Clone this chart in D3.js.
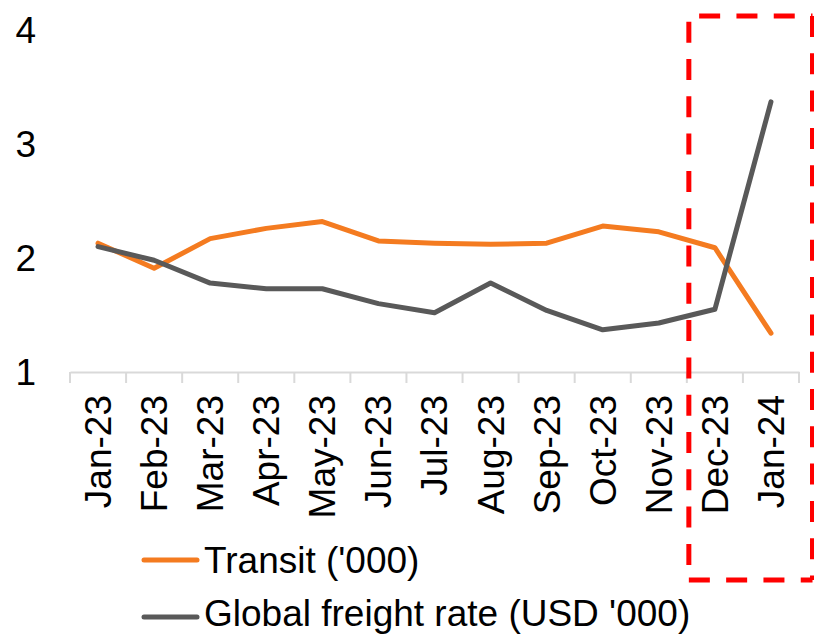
<!DOCTYPE html>
<html>
<head>
<meta charset="utf-8">
<script src="https://cdn.jsdelivr.net/npm/d3@7"></script>
<style>
  html, body { margin: 0; padding: 0; background: #fff; }
  svg { display: block; font-family: "Liberation Sans", Arial, sans-serif; }
</style>
</head>
<body>
<svg id="chart" width="814" height="634"></svg>
<script>
const categories = ["Jan-23","Feb-23","Mar-23","Apr-23","May-23","Jun-23","Jul-23","Aug-23","Sep-23","Oct-23","Nov-23","Dec-23","Jan-24"];
const transit = [2.13, 1.91, 2.17, 2.26, 2.32, 2.15, 2.13, 2.12, 2.13, 2.28, 2.23, 2.09, 1.34];
const freightRate = [2.10, 1.98, 1.78, 1.73, 1.73, 1.60, 1.52, 1.78, 1.54, 1.37, 1.43, 1.55, 3.37];
const yTicks = [1, 2, 3, 4];
const seriesNames = ["Transit ('000)", "Global freight rate (USD '000)"];
const seriesColors = ["#F47B20", "#595959"];
const highlightStart = "Dec-23";

const svg = d3.select("#chart");
const fontSize = 37;

const x = d3.scaleBand().domain(categories).range([70, 799]).padding(0);
const y = d3.scaleLinear().domain([1, 4]).range([372, 30]);

// Y labels
svg.append("g").selectAll("text").data(yTicks).join("text")
  .attr("x", 36).attr("y", d => y(d)).attr("dy", "0.36em")
  .attr("text-anchor", "end").attr("font-size", fontSize).attr("fill", "#000")
  .text(d => d);

// X axis
const xAxis = d3.axisBottom(x).tickSize(0).tickFormat("");
const gx = svg.append("g").attr("transform", `translate(0,${y(1)})`).call(xAxis);
gx.select(".domain").attr("stroke", "#d9d9d9").attr("stroke-width", 2);
const boundaries = categories.map(c => x(c)).concat([x(categories[categories.length-1]) + x.bandwidth()]);
gx.selectAll("line.bt").data(boundaries).join("line").attr("class","bt")
  .attr("x1", d => d).attr("x2", d => d).attr("y1", 0).attr("y2", 11)
  .attr("stroke", "#d9d9d9").attr("stroke-width", 2);
gx.selectAll("text.lbl").data(categories).join("text").attr("class","lbl")
  .attr("transform", d => `translate(${x(d) + x.bandwidth()/2},23) rotate(-90)`)
  .attr("dy", "0.35em").attr("text-anchor", "end")
  .attr("font-size", fontSize).attr("fill", "#000")
  .text(d => d);

// Lines
const line = d3.line().x((d, i) => x(categories[i]) + x.bandwidth()/2).y(d => y(d));
[transit, freightRate].forEach((s, k) => {
  svg.append("path").datum(s).attr("d", line)
    .attr("fill", "none").attr("stroke", seriesColors[k]).attr("stroke-width", 5)
    .attr("stroke-linejoin", "round").attr("stroke-linecap", "round");
});

// Highlight dashed box
const bx0 = x(highlightStart) + 2, bx1 = 812.5, by0 = 16, by1 = 580;
const dash = "21,16.3";
const edges = [
  {x1: bx0, y1: by0, x2: bx1, y2: by0, off: 27},
  {x1: bx0, y1: by0, x2: bx0, y2: by1, off: 31.6},
  {x1: bx0, y1: by1, x2: bx1, y2: by1, off: 0},
  {x1: bx1, y1: by0, x2: bx1, y2: by1, off: 0}
];
svg.append("g").selectAll("line").data(edges).join("line")
  .attr("x1", d => d.x1).attr("y1", d => d.y1).attr("x2", d => d.x2).attr("y2", d => d.y2)
  .attr("stroke", "#FF0000").attr("stroke-width", 5)
  .attr("stroke-dasharray", dash).attr("stroke-dashoffset", d => d.off);

// Legend
const legendRows = [573, 626];
const legendLineY = [560, 617];
seriesNames.forEach((name, k) => {
  const g = svg.append("g");
  g.append("line").attr("x1", 144).attr("x2", 197)
    .attr("y1", legendLineY[k]).attr("y2", legendLineY[k])
    .attr("stroke", seriesColors[k]).attr("stroke-width", 5).attr("stroke-linecap", "round");
  g.append("text").attr("x", 204).attr("y", legendRows[k])
    .attr("font-size", fontSize).attr("fill", "#000").text(name);
});
</script>
</body>
</html>
